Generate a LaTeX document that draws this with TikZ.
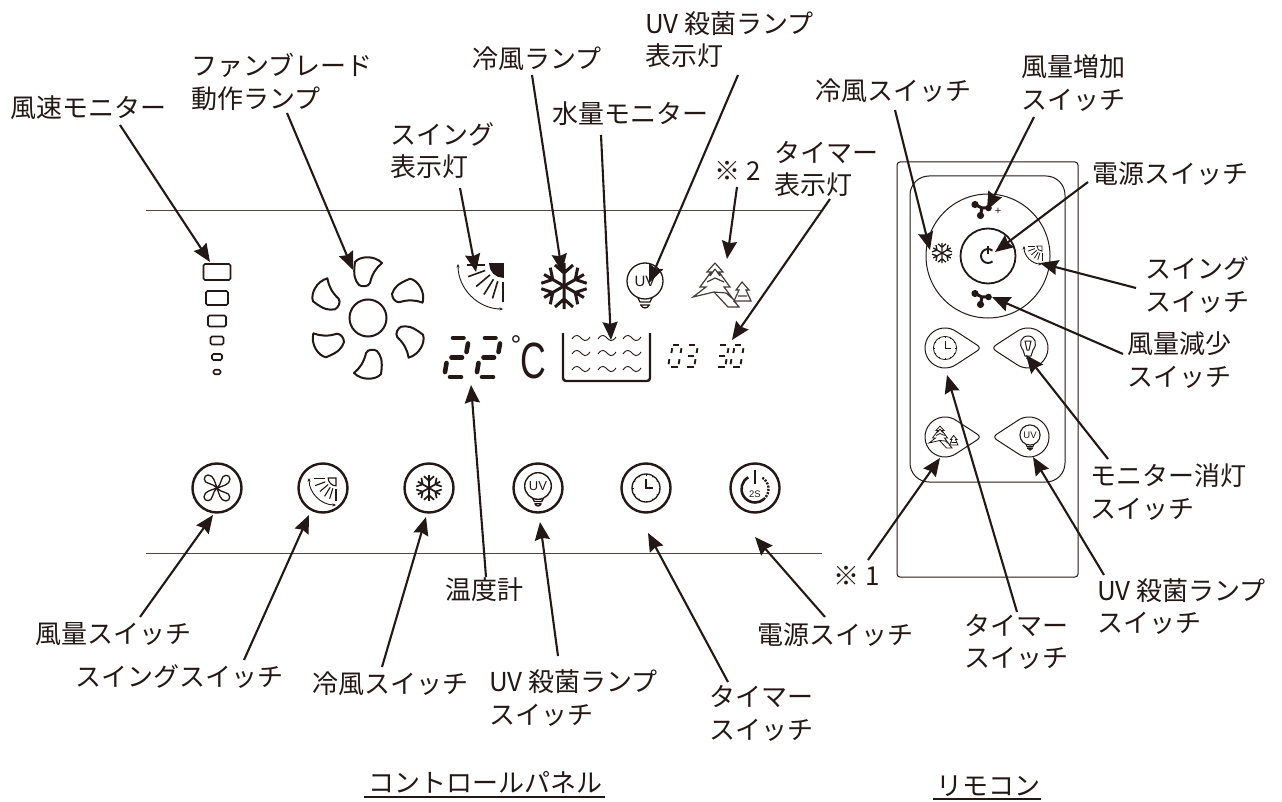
\documentclass[tikz,border=0pt]{standalone}
\usepackage{fontspec}
\usepackage{xcolor}
\setmainfont{Noto Sans CJK JP}
\newfontfamily\latinfont{Liberation Sans}
\usetikzlibrary{arrows.meta}
\definecolor{inkdark}{HTML}{231815}
\tikzset{
  every pic/.style={yscale=-1},
  callout/.style={inkdark,line width=2.1pt,-{Stealth[length=18pt,width=15pt,inset=2pt]}},
  labeltext/.style={inkdark,align=center,inner sep=0pt,font=\fontsize{26}{32.5}\selectfont},
  lefttext/.style={labeltext,align=left,anchor=west},
  panelline/.style={inkdark!80,line width=.9pt},
  buttonring/.style={inkdark,line width=2.4pt},
  thinshape/.style={inkdark,line width=1pt},
  fan blade/.pic={
    \draw[inkdark,line width=2pt,line join=round] (-13,-56) .. controls (-8,-62) and (6,-63) .. (14,-55)
      .. controls (8,-50) and (4,-44) .. (2,-35) .. controls (0,-31) and (-6,-31) .. (-9,-33)
      .. controls (-13,-38) and (-15,-42) .. (-13,-56) -- cycle;
  },
  petal fan/.pic={
    \foreach \a in {0,90,180,270}
      \draw[rotate=\a] (0,0) .. controls (-2,-5) and (-3,-13) .. (-9,-13)
        .. controls (-14,-13) and (-14,-5) .. (-8,-4.5) .. controls (-5,-4) and (-2,-2) .. (0,0);
  },
  snow flake/.pic={
    \foreach \a in {30,90,150,210,270,330}{
      \draw[rotate=\a] (0,0) -- (23,0) (13,0) -- (21,-9) (13,0) -- (21,9);
    }
  },
  swing fan/.pic={
    \filldraw[fill=#1] (-13,0) arc[start angle=180,end angle=90,radius=13] -- (0,0) -- cycle;
    \draw (-36,1) -- (-18,1) (0,18) -- (0,38);
    \foreach \a/\p/\q in {160/19/37,140/17/35,122/18/36,107/18/36}
      \draw (\a:\p) -- (\a:\q);
    \draw[{Stealth[length=3.5pt,width=3pt]}-{Stealth[length=3.5pt,width=3pt]},line width=.9pt] (-45,0) arc[start angle=180,end angle=90,radius=45];
  },
  uv bulb/.pic={
    \draw (0,0) circle[radius=18];
    \draw (-7,17) -- (-5,21) -- (5,21) -- (7,17) (-5,24) -- (5,24) (-4,24) .. controls (-3,28) and (3,28) .. (4,24);
    \node[inner sep=0pt,font=\latinfont\fontsize{#1}{#1}\selectfont] (uvtext) at (0,0) {UV};
  },
  lamp bulb/.pic={
    \draw (-5,5) .. controls (-10,-1) and (-7,-9) .. (0,-9) .. controls (7,-9) and (10,-1) .. (5,5) -- (3,11) -- (-3,11) -- cycle;
    \draw (-3,-4) -- (3,-4) -- (1,5) -- (-1,5) -- cycle (-2,13) -- (2,13);
  },
  clock face/.pic={
    \draw (0,0) circle[radius=14];
    \foreach \a in {0,30,...,330}
      \draw[line width=.8pt] (\a:12.5) -- (\a:14);
    \draw (0,-9) -- (0,0) -- (7,0);
  },
  fir trees/.pic={
    \draw[line join=miter] (-8,-22) -- (-16,-13) -- (-12,-13) -- (-23,2) -- (-17,2) -- (-30,12) -- (-9,7)
      -- (5,22) -- (16,22) -- (11,16)
      (-8,-22) -- (0,-13) -- (-4,-13) -- (7,2) -- (1,2) -- (10,14) -- (3,8) -- (-9,7)
      (-8,-16) -- (-13,-9) (-8,-16) -- (-3,-9) (-16,-3) -- (-8,-7) -- (1,-3);
    \draw (19,-3) -- (13,5) -- (16,5) -- (11,16) -- (28,16) -- (23,5) -- (26,5) -- cycle
      (15,11) -- (24,11);
  },
  blower fan/.pic={
    \fill (-7,-3.5) circle[radius=3.6] (-1.5,7.5) circle[radius=3.6] (6.5,0) circle[radius=3.3];
    \draw[line width=3pt] (-7,-3.5) -- (0,0) -- (-1.5,7.5) (0,0) -- (6.5,0);
  },
  drop button/.pic={
    \draw[thinshape] (54:20) arc[start angle=54,end angle=306,radius=20] -- (32,-3) .. controls (35,-1) and (35,1) .. (32,3) -- cycle;
  },
}
\newcommand{\lcdA}{\draw (9,-39) -- (19.5,-39);}
\newcommand{\lcdB}{\draw (24,-33.5) -- (22.5,-25);}
\newcommand{\lcdC}{\draw (20.5,-14) -- (19,-5);}
\newcommand{\lcdD}{\draw (6,0) -- (17,0);}
\newcommand{\lcdE}{\draw (2.5,-14) -- (1,-5);}
\newcommand{\lcdF}{\draw (7.5,-33.5) -- (6,-25);}
\newcommand{\lcdG}{\draw (7.5,-19.5) -- (18,-19.5);}
\tikzset{
  lcd two/.pic={\lcdA\lcdB\lcdG\lcdE\lcdD},
  lcd three/.pic={\lcdA\lcdB\lcdG\lcdC\lcdD},
  lcd zero/.pic={\lcdA\lcdB\lcdC\lcdD\lcdE\lcdF},
}
\begin{document}
\begin{tikzpicture}[yscale=-1,x=1pt,y=1pt]
\useasboundingbox (0,0) rectangle (1282,802);
% panel
\draw[panelline] (146,210) -- (822,210) (146,553) -- (822,553);
% level monitor
\foreach \w/\h/\y in {27/16/272,22/14/298,18/11/321,13/8/340.5,10/6/357,7/4.5/372}
  \draw[inkdark,line width=1.7pt,rounded corners=1.5pt] (217-\w/2,\y-\h/2) rectangle (217+\w/2,\y+\h/2);
% fan blades
\draw[inkdark,line width=2pt] (368,318) circle[radius=18.5];
\foreach \a in {0,60,...,300}
  \pic[rotate=\a] at (368,318) {fan blade};
% lamps
\pic[inkdark,line width=1.6pt] at (503,264) {swing fan=inkdark};
\pic[inkdark,line width=3pt] at (564,286) {snow flake};
\pic[inkdark,line width=1.3pt] at (645,281) {uv bulb=15};
\pic[inkdark!85,line width=1.2pt] at (723,285) {fir trees};
% temperature
\foreach \x in {444,476}
  \pic[inkdark,line width=4.6pt,line cap=round] at (\x,377) {lcd two};
\node[inkdark,inner sep=0pt,font=\latinfont\fontsize{51}{51}\selectfont] (cunit) at (533,361) {\scalebox{.7}[1]{C}};
\node[inkdark,inner sep=0pt,font=\latinfont\fontsize{27}{27}\selectfont] (degree) at (516,345) {°};
% water level
\draw[inkdark,line width=2.4pt,rounded corners=3pt] (563,333) -- (563,381) -- (650,381) -- (650,333);
\foreach \x in {581,607,632}
  \foreach \y in {338,353,369}
    \draw[inkdark,line width=.9pt] (\x-9,\y+1) .. controls (\x-5,\y-5) and (\x-2,\y-2) .. (\x,\y) .. controls (\x+2,\y+2) and (\x+5,\y+5) .. (\x+9,\y-1);
% timer
\foreach \x/\d in {668/zero,684/three,715/three,730/zero}
  \pic[inkdark,line width=1.9pt,scale=.56] at (\x,367) {lcd \d};
% panel buttons
\foreach \n/\x in {fanbtn/217,swingbtn/323,coolbtn/429,uvbtn/538,timerbtn/646,powerbtn/755}
  \node[buttonring,draw,circle,minimum size=49pt,inner sep=0pt] (\n) at (\x,488) {};
\pic[inkdark,line width=1.3pt] at (217,488) {petal fan};
\pic[inkdark,line width=1.1pt,scale=.6] at (336,478) {swing fan=white};
\pic[inkdark,line width=1.7pt,scale=.56] at (429,488) {snow flake};
\pic[inkdark,line width=1.4pt,scale=.74] at (538,486) {uv bulb=13};
\pic[inkdark,line width=1.3pt] at (646,488) {clock face};
\draw[inkdark,line width=2.6pt] (755,470) -- (755,484);
\draw[inkdark,line width=2.6pt] (755,489) ++(240:13.5) arc[start angle=240,end angle=50,radius=13.5];
\draw[inkdark,line width=2.4pt,dash pattern=on 2pt off 1.3pt] (755,489) ++(50:13.5) arc[start angle=50,end angle=-60,radius=13.5];
\node[inkdark,inner sep=0pt,font=\latinfont\fontsize{9.5}{9.5}\selectfont] (twosec) at (755,494) {2S};
% remote
\draw[inkdark,line width=1pt,rounded corners=3pt] (897,162) rectangle (1078,577);
\draw[thinshape,rounded corners=19pt] (910,176) rectangle (1065,482);
\draw[thinshape] (988,256) circle[radius=62];
\draw[inkdark,line width=1.8pt] (988,256) circle[radius=27.5];
\draw[inkdark,line width=1.9pt] (988,256) ++(-50:7) arc[start angle=-50,end angle=-310,radius=7];
\draw[inkdark,line width=1.9pt] (988,246) -- (988,254);
\pic[inkdark] at (982,208) {blower fan};
\pic[inkdark] at (982,297) {blower fan};
\node[inkdark,inner sep=0pt,font=\latinfont\fontsize{11}{11}\selectfont] (plus) at (998,211) {+};
\pic[inkdark,line width=1.3pt,scale=.44] at (942,253) {snow flake};
\pic[inkdark,line width=.8pt,scale=.4] at (1042,246) {swing fan=white};
\pic at (945,348) {drop button};
\pic[xscale=-1] at (1028,348) {drop button};
\pic at (945,437) {drop button};
\pic[xscale=-1] at (1029,437) {drop button};
\pic[inkdark,line width=.8pt,scale=.83] at (945,348) {clock face};
\pic[inkdark,line width=1pt] at (1028,345) {lamp bulb};
\pic[inkdark,line width=.8pt,scale=.5] at (944,437) {fir trees};
\pic[inkdark,line width=1.1pt,scale=.56] at (1030,435) {uv bulb=9.5};
% labels
\node[labeltext] (speedmon) at (88,108) {風速モニター};
\node[lefttext] (bladelamp) at (191,82) {ファンブレード\\動作ランプ};
\node[labeltext] (coollamp) at (537,59) {冷風ランプ};
\node[lefttext] (uvlamp) at (645,39.5) {UV 殺菌ランプ\\表示灯};
\node[labeltext] (watermon) at (630,114) {水量モニター};
\node[lefttext] (swinglamp) at (390,150.5) {スイング\\表示灯};
\node[labeltext] (note2) at (738,171) {※ 2};
\node[lefttext] (timerlamp) at (774,169) {タイマー\\表示灯};
\node[labeltext] (tempmon) at (484,590) {温度計};
\node[labeltext] (fansw) at (113,634) {風量スイッチ};
\node[labeltext] (swingsw) at (179,677) {スイングスイッチ};
\node[labeltext] (coolsw) at (390,684) {冷風スイッチ};
\node[lefttext] (uvsw) at (489,698) {UV 殺菌ランプ\\スイッチ};
\node[labeltext] (timersw) at (761,713.5) {タイマー\\スイッチ};
\node[labeltext] (powersw) at (835,635) {電源スイッチ};
\node[lefttext] (rcool) at (815,91) {冷風スイッチ};
\node[labeltext] (rup) at (1073,83) {風量増加\\スイッチ};
\node[labeltext] (rpower) at (1170,174) {電源スイッチ};
\node[labeltext] (rswing) at (1197,285) {スイング\\スイッチ};
\node[labeltext] (rdown) at (1179,360) {風量減少\\スイッチ};
\node[lefttext] (rmon) at (1090,492) {モニター消灯\\スイッチ};
\node[lefttext] (ruv) at (1097,606.5) {UV 殺菌ランプ\\スイッチ};
\node[labeltext] (rtimer) at (1016,642) {タイマー\\スイッチ};
\node[labeltext] (note1) at (857,576) {※ 1};
\node[labeltext] (paneltitle) at (485,783) {コントロールパネル};
\node[labeltext] (remotetitle) at (988,786) {リモコン};
\draw[inkdark,line width=1.2pt] (364,797) -- (605,797) (933,799) -- (1041,799);
% connector ends
\foreach \n/\x/\y in {
  speedtail/120/125,speedtip/210/262,bladetail/287/113,bladetip/353/270,
  swingtail/460/188,swingtip/476/272,cooltail/532/75,cooltip/562/272,
  watertail/601/135,watertip/611/340,uvtail/738/75,uvtip/649/283,
  notetail/737/187,notetip/727/259,timertail/830/199,timertip/732/340,
  temptail/486/577,temptip/471/385,
  fantail/140/617,fantip/213/515,swstail/244/660,swstip/309/515,
  coolstail/382/667,coolstip/426/517,uvstail/558/656,uvstip/540/522,
  timerstail/728/682,timerstip/648/533,powerstail/825/617,powerstip/755/537,
  rcooltail/895/110,rcooltip/930/250,ruptail/1034/117,ruptip/987/210,
  rpowertail/1088/182,rpowertip/995/252,rswingtail/1136/288,rswingtip/1040/263,
  rdowntail/1123/354,rdowntip/992/297,rmontail/1108/459,rmontip/1026/355,
  ruvtail/1104/575,ruvtip/1033/457,rtimertail/1017/612,rtimertip/947/375,
  rnotetail/868/560,rnotetip/940/458}
  \coordinate (\n) at (\x,\y);
\foreach \a in {speed,blade,swing,cool,water,uv,note,timer,temp,fan,sws,cools,uvs,timers,powers,rcool,rup,rpower,rswing,rdown,rmon,ruv,rtimer,rnote}
  \draw[callout] (\a tail) -- (\a tip);
\end{tikzpicture}
\end{document}
